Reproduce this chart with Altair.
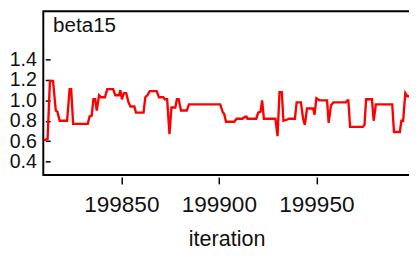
import altair as alt
import pandas as pd

iterations = [
    199810.3, 199812.2, 199813.4, 199815.0, 199816.4, 199817.2, 199818.4, 199822.2,
    199823.5, 199824.3, 199825.3, 199832.8, 199833.7, 199834.8, 199835.7, 199836.6,
    199837.4, 199838.6, 199839.6, 199841.6, 199842.8, 199845.8, 199846.9, 199848.8,
    199849.5, 199850.3, 199851.3, 199852.5, 199853.7, 199854.7, 199856.7, 199857.5,
    199861.4, 199862.3, 199863.4, 199864.6, 199868.1, 199869.3, 199871.5, 199872.3,
    199873.5, 199874.7, 199875.7, 199877.7, 199878.5, 199879.4, 199880.6, 199883.6,
    199884.7, 199900.7, 199902.1, 199902.7, 199903.7, 199907.9, 199909.1, 199912.1,
    199913.5, 199914.2, 199914.7, 199919.2, 199920.2, 199921.4, 199922.2, 199923.1,
    199929.0, 199930.1, 199931.1, 199932.3, 199933.1, 199934.8, 199936.0, 199939.0,
    199939.9, 199942.1, 199943.2, 199944.1, 199945.2, 199948.3, 199949.1, 199950.0,
    199951.6, 199955.5, 199956.3, 199957.5, 199958.7, 199965.1, 199965.9, 199966.4,
    199967.3, 199973.8, 199974.7, 199975.5, 199978.5, 199979.4, 199980.5, 199988.9,
    199989.8, 199992.8, 199993.6, 199994.5, 199995.6, 199996.6, 199998.5,
]
beta15 = [
    0.61, 0.62, 1.19, 1.19, 0.90, 0.89, 0.80, 0.80,
    1.11, 1.11, 0.77, 0.77, 0.84, 0.85, 1.01, 1.01,
    0.90, 1.05, 1.03, 1.03, 1.11, 1.11, 1.05, 1.05,
    1.10, 1.01, 1.07, 1.07, 0.98, 0.94, 0.94, 0.88,
    0.88, 1.03, 1.05, 1.09, 1.09, 1.03, 1.03, 1.01,
    1.01, 0.67, 0.93, 0.93, 1.01, 1.01, 0.90, 0.90,
    0.96, 0.96, 0.88, 0.87, 0.79, 0.79, 0.82, 0.82,
    0.84, 0.84, 0.82, 0.82, 0.88, 0.89, 1.00, 0.82,
    0.82, 0.65, 1.08, 1.08, 0.80, 0.81, 0.82, 0.82,
    0.98, 0.98, 0.82, 0.76, 0.92, 0.92, 0.86, 1.02,
    1.00, 1.00, 0.78, 0.95, 0.98, 0.98, 1.00, 1.00,
    0.74, 0.74, 0.76, 1.01, 1.01, 0.80, 0.96, 0.96,
    0.69, 0.69, 0.80, 0.80, 1.07, 1.04, 1.04,
]
x_ticks = [199850, 199900, 199950]
y_ticks = [0.4, 0.6, 0.8, 1.0, 1.2, 1.4]
panel_label = ["beta15"]

df = pd.DataFrame({"iteration": iterations, "value": beta15})
lab = pd.DataFrame({"label": panel_label})

FONT = "Liberation Sans"

line = alt.Chart(df).mark_line(color="#ff0000", strokeWidth=2.4, clip=True).encode(
    x=alt.X(
        "iteration:Q",
        scale=alt.Scale(domain=[199810, 199998], zero=False, nice=False),
        axis=alt.Axis(
            values=x_ticks, format="d", domain=False, grid=False,
            offset=2, tickSize=7, tickColor="#000", tickWidth=1.5,
            labelFontSize=23, labelFont=FONT, labelColor="#111", labelPadding=10,
            title="iteration", titleFontSize=22, titleFont=FONT, titleColor="#111",
            titleFontWeight="normal", titlePadding=13,
        ),
    ),
    y=alt.Y(
        "value:Q",
        scale=alt.Scale(domain=[0.269, 1.87], zero=False, nice=False),
        axis=alt.Axis(
            values=y_ticks, format=".1f", domain=False, grid=False,
            offset=-7, tickSize=5, tickColor="#000", tickWidth=1.5,
            labelFontSize=20, labelFont=FONT, labelColor="#111", labelPadding=9,
            title=None,
        ),
    ),
)

text = alt.Chart(lab).mark_text(
    font=FONT, fontSize=21, color="#111", align="left", baseline="alphabetic"
).encode(text="label:N", x=alt.value(10), y=alt.value(21))

chart = (
    alt.layer(line, text)
    .properties(
        width=374, height=167,
        autosize=alt.AutoSizeParams(type="none"),
        padding={"left": 36, "top": 1, "right": -1, "bottom": 74},
    )
    .configure_view(stroke="#000", strokeWidth=2)
)

chart.save("out.html", embed_options={"renderer": "svg", "actions": False})
